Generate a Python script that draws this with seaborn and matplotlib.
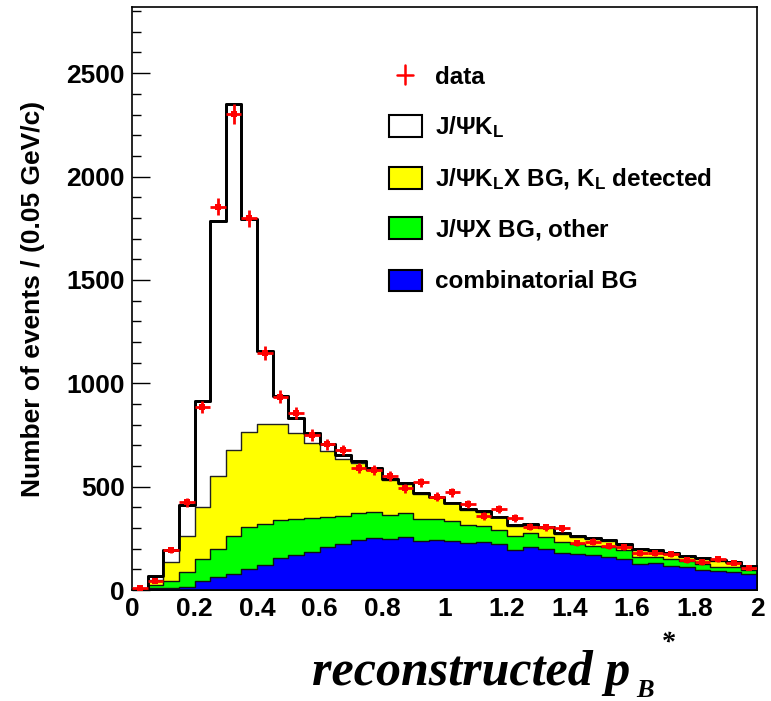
import numpy as np
import pandas as pd
import matplotlib
matplotlib.use("Agg")
import matplotlib.pyplot as plt
import seaborn as sns
from matplotlib.patches import Rectangle
from matplotlib.lines import Line2D
from matplotlib.ticker import MultipleLocator, FixedLocator, FuncFormatter

# ---- binning: 40 bins of 0.05 GeV/c in p_B* ----
bin_lo, bin_hi, bin_w = 0.0, 2.0, 0.05

# ---- per-bin counts of each component ----
signal_jpsikl = [2, 18, 57, 150, 513, 1236, 1673, 1029, 357, 135,
                 72, 48, 34, 21, 11, 8, 5, 3, 4, 4,
                 4, 3, 3, 3, 3, 5, 8, 4, 8, 5,
                 5, 4, 4, 4, 5, 6, 5, 5, 5, 4]
bg_jpsiklx = [1, 28, 92, 172, 253, 353, 414, 463, 483, 464,
              415, 366, 319, 274, 242, 205, 169, 142, 121, 106,
              85, 73, 68, 62, 50, 40, 40, 36, 33, 34,
              31, 24, 33, 29, 24, 18, 22, 27, 19, 17]
bg_jpsix_other = [1, 14, 34, 73, 106, 137, 186, 203, 197, 186,
                  174, 162, 149, 137, 129, 126, 116, 113, 106, 100,
                  97, 88, 80, 68, 67, 68, 60, 57, 50, 45,
                  45, 44, 35, 32, 32, 32, 29, 21, 24, 20]
bg_combinatorial = [1, 8, 11, 16, 44, 61, 77, 100, 121, 153,
                    169, 185, 206, 221, 242, 250, 247, 258, 237, 242,
                    237, 226, 231, 222, 194, 206, 198, 177, 172, 169,
                    161, 150, 126, 129, 116, 110, 97, 92, 89, 77]

# ---- observed events ----
data_counts = [10, 43, 194, 424, 884, 1855, 2301, 1797, 1145, 935,
               855, 750, 706, 677, 589, 581, 551, 492, 521, 452,
               473, 416, 358, 390, 350, 306, 303, 298, 226, 234,
               213, 210, 180, 177, 172, 145, 134, 148, 132, 105]

legend_labels = ["data",
                 r"J/$\Psi$K$_{\rm L}$",
                 r"J/$\Psi$K$_{\rm L}$X BG, K$_{\rm L}$ detected",
                 r"J/$\Psi$X BG, other",
                 "combinatorial BG"]
x_tick_values = [0, 0.2, 0.4, 0.6, 0.8, 1.0, 1.2, 1.4, 1.6, 1.8, 2.0]

sns.set_style("ticks")
plt.rcParams.update({
    "font.family": ["Liberation Sans", "DejaVu Sans"],
    "font.weight": "bold",
    "text.color": "black",
    "axes.labelcolor": "black",
    "axes.edgecolor": "black",
    "xtick.color": "black",
    "ytick.color": "black",
    "mathtext.fontset": "custom",
    "mathtext.rm": "Liberation Sans:bold",
    "mathtext.it": "Liberation Sans:bold",
    "mathtext.bf": "Liberation Sans:bold",
    "mathtext.sf": "Liberation Sans:bold",
})

W, H = 771, 701
fig = plt.figure(figsize=(W / 100, H / 100), dpi=100)
fig.patch.set_facecolor("white")
ax = fig.add_axes([132 / W, 111 / H, 625 / W, 583 / H])


def fxy(x, y):
    """pixel position -> figure fraction"""
    return x / W, 1 - y / H


n_bins = len(data_counts)
centers = bin_lo + bin_w * (np.arange(n_bins) + 0.5)
comb = np.asarray(bg_combinatorial, float)
other = np.asarray(bg_jpsix_other, float)
klx = np.asarray(bg_jpsiklx, float)
sig = np.asarray(signal_jpsikl, float)

# stacked tops, drawn from the outermost layer inwards
stack_layers = [
    (comb + other + klx + sig, "white", "black", 2.0),
    (comb + other + klx, "#ffff00", "#222222", 1.0),
    (comb + other, "#00ff00", "#111111", 1.0),
    (comb, "#0000ff", "#111111", 1.0),
]
hist_kws = dict(binwidth=bin_w, binrange=(bin_lo, bin_hi), element="step")
for tops, fc, ec, lw in stack_layers:
    df = pd.DataFrame({"p": centers, "n": tops})
    sns.histplot(data=df, x="p", weights="n", fill=True, color=fc, alpha=1,
                 edgecolor=ec, linewidth=lw, ax=ax, **hist_kws)

# total outline on top of the coloured fills
df_tot = pd.DataFrame({"p": centers, "n": stack_layers[0][0]})
sns.histplot(data=df_tot, x="p", weights="n", fill=False, color="black",
             linewidth=2.0, ax=ax, **hist_kws)

# data points with Poisson errors
data_arr = np.asarray(data_counts, float)
ax.errorbar(centers, data_arr, xerr=bin_w / 2, yerr=np.sqrt(data_arr),
            fmt="none", ecolor="red", elinewidth=2, capsize=0, zorder=6)
sns.scatterplot(x=centers, y=data_arr, marker="s", color="red", s=22,
                linewidth=0, ax=ax, zorder=7)

ax.set_xlim(bin_lo, bin_hi)
ax.set_ylim(0, 2820)
ax.set_xlabel("")
ax.set_ylabel("")

ax.xaxis.set_major_locator(FixedLocator(x_tick_values))
ax.xaxis.set_major_formatter(FuncFormatter(lambda v, _: f"{v:g}"))
ax.yaxis.set_major_locator(MultipleLocator(500))
ax.yaxis.set_minor_locator(MultipleLocator(100))
ax.tick_params(axis="x", which="both", length=0, pad=5, labelsize=19,
               labelcolor="black")
ax.tick_params(axis="y", which="major", direction="in", length=13,
               width=1, pad=5, labelsize=19, color="black",
               labelcolor="black")
ax.tick_params(axis="y", which="minor", direction="in", length=6.5, width=1,
               color="black")
for lab in ax.get_xticklabels() + ax.get_yticklabels():
    lab.set_fontweight("bold")
for side in ["left", "right", "top", "bottom"]:
    ax.spines[side].set_visible(True)
    ax.spines[side].set_color("black")
    ax.spines[side].set_linewidth(1.2)

# axis titles
fig.text(*fxy(33, 298.5), "Number of events / (0.05 GeV/c)", rotation=90,
         ha="center", va="center", fontsize=19, fontweight="bold",
         color="black")
serif = ["Liberation Serif", "DejaVu Serif"]
fig.text(*fxy(630, 685), "reconstructed p", ha="right", va="baseline",
         fontsize=36, family=serif, style="italic", fontweight="bold",
         color="black")
fig.text(*fxy(636, 697), "B", ha="left", va="baseline",
         fontsize=19, family=serif, style="italic", fontweight="bold",
         color="black")
fig.text(*fxy(661, 650), "*", ha="left", va="baseline",
         fontsize=20, family=serif, style="italic", fontweight="bold",
         color="black")

# legend
row_y = [75, 126, 178, 228, 280]
box_fc = [None, "white", "#ffff00", "#00ff00", "#0000ff"]
for yc, lab, fc in zip(row_y, legend_labels, box_fc):
    if fc is None:
        fig.add_artist(Line2D([397 / W, 413 / W], [1 - yc / H, 1 - yc / H],
                              color="red", lw=1.8))
        fig.add_artist(Line2D([405 / W, 405 / W],
                              [1 - (yc - 10) / H, 1 - (yc + 9) / H],
                              color="red", lw=1.8))
    else:
        fig.add_artist(Rectangle(fxy(389, yc + 10.5), 33 / W, 21 / H,
                                 transform=fig.transFigure, facecolor=fc,
                                 edgecolor="black", linewidth=1.5))
    fig.text(*fxy(435, yc + 8.5), lab, ha="left", va="baseline",
             fontsize=17.5, fontweight="bold", color="black")

fig.savefig("out.png", dpi=100, facecolor="white")
